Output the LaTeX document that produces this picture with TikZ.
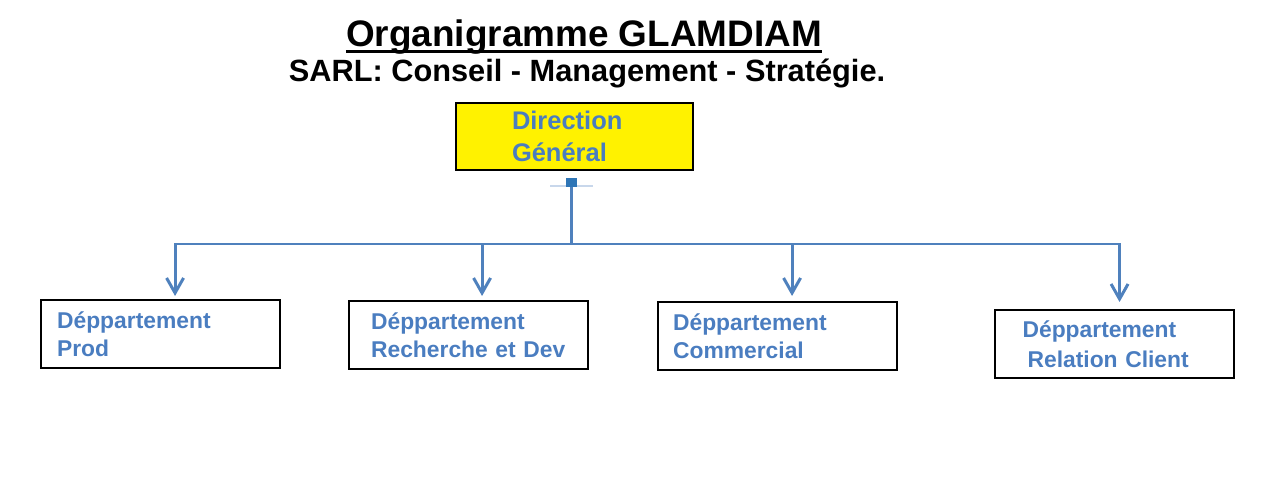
\documentclass[tikz,border=0pt]{standalone}
\usepackage{fontspec}
\setmainfont{Liberation Sans}
\usepackage{tikz}
\usetikzlibrary{positioning, arrows.meta}
\definecolor{lineblue}{RGB}{79,129,189}
\definecolor{textblue}{RGB}{74,125,192}
\definecolor{squareblue}{RGB}{46,117,182}
\definecolor{paleblue}{RGB}{200,215,235}
\definecolor{boxyellow}{RGB}{255,242,0}

\begin{document}
\begin{tikzpicture}[
		dept/.style={draw=black, line width=1.2pt, anchor=north west, minimum width=4.78cm, minimum height=1.36cm,
			align=left, text=textblue, font=\bfseries\fontsize{13}{16}\selectfont},
		link/.style={draw=lineblue, line width=1.7pt},
		arrowlink/.style={link, -{Straight Barb[length=3mm,width=3.4mm]}}]
			\useasboundingbox (0,0) rectangle (25.26,9.7);
			\node (title) [anchor=base, inner xsep=0pt, font=\bfseries\fontsize{21}{25}\selectfont] at (11.68,8.76) {Organigramme GLAMDIAM};
			\draw[line width=0.06cm] ([yshift=-0.1cm]title.base west) -- ([yshift=-0.1cm]title.base east);
			\node (subtitle) [anchor=base, font=\bfseries\fontsize{17.5}{21}\selectfont] at (11.74,8.06) {SARL: Conseil - Management - Strat\'egie.};
			\node (dir) [draw=black, line width=1.4pt, fill=boxyellow, minimum width=4.74cm, minimum height=1.34cm,
				inner xsep=1.12cm, text width=2.5cm, align=left, text=textblue,
				font=\bfseries\fontsize{14.5}{18}\selectfont] at (11.49,6.97) {Direction\\G\'en\'eral};
			\draw[paleblue, line width=0.8pt] (11.0,5.98) -- (11.86,5.98);
			\node (sq) [fill=squareblue, minimum width=0.22cm, minimum height=0.18cm, inner sep=0pt] at (11.42,6.05) {};
			\coordinate (hub) at (11.42,4.82);
			\node (prod) [dept, inner xsep=0.32cm, text width=4.14cm] at (0.80,3.72) {D\'eppartement\\Prod};
			\node (rd) [dept, inner xsep=0.44cm, text width=3.9cm] at (6.96,3.70) {D\'eppartement\\Recherche et Dev};
			\node (com) [dept, inner xsep=0.30cm, text width=4.18cm] at (13.14,3.68) {D\'eppartement\\Commercial};
			\node (rc) [dept, inner xsep=0.54cm, text width=3.68cm, font=\bfseries\fontsize{13}{17}\selectfont] at (19.88,3.52) {D\'eppartement\\\hspace{0.1cm}Relation Client};
			\draw[link] (sq.south) -- (hub);
			\draw[arrowlink] (hub) -| ([xshift=0.29cm,yshift=0.06cm]prod.north);
			\draw[arrowlink] (hub) -| ([xshift=0.27cm,yshift=0.08cm]rd.north);
			\draw[arrowlink] (hub) -| ([xshift=0.29cm,yshift=0.10cm]com.north);
			\draw[arrowlink] (hub) -| ([xshift=0.10cm,yshift=0.14cm]rc.north);
		\end{tikzpicture}
\end{document}
